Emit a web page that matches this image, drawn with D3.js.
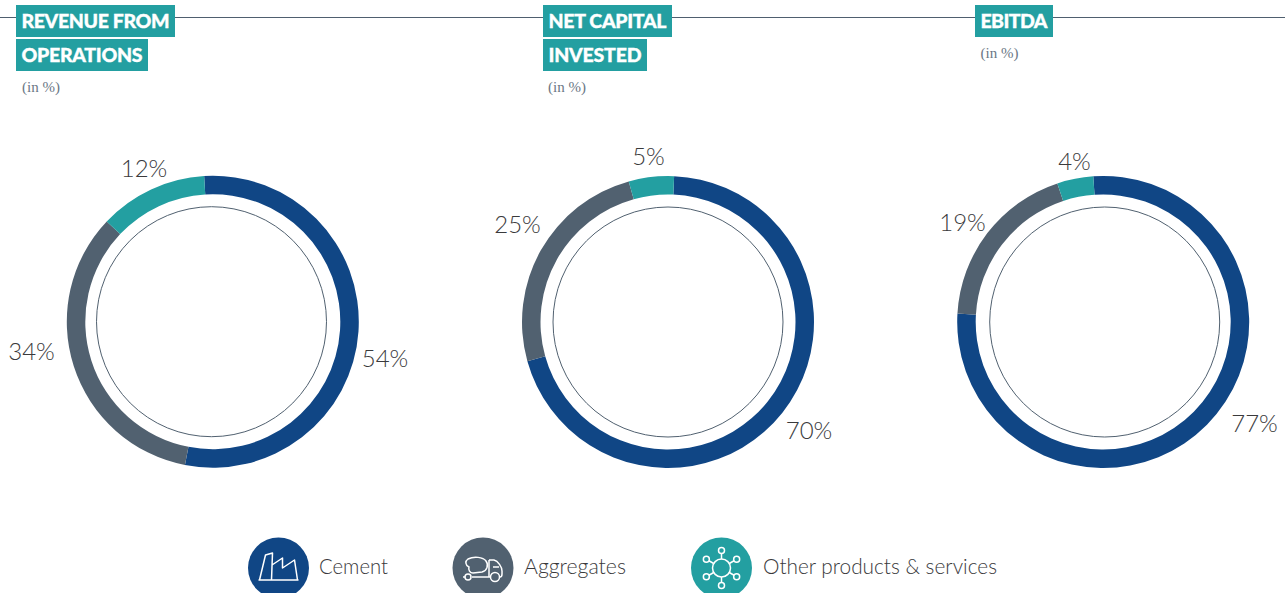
<!DOCTYPE html>
<html><head><meta charset="utf-8">
<script src="https://cdn.jsdelivr.net/npm/d3@7"></script>
<style>html,body{margin:0;padding:0;background:#fff;overflow:hidden}svg{display:block}</style>
</head><body><div id="c"></div>
<script>
const categories = ["Cement","Aggregates","Other products & services"];
const revenueValues = [54,34,12];
const capitalValues = [70,25,5];
const ebitdaValues = [77,19,4];
const colors = ["#104685","#516170","#239fa1"];
const W=1285,H=593;
const svg=d3.select("#c").append("svg").attr("width",W).attr("height",H);
const sans="Lato, sans-serif";
const textColor="#3a3a3c";
svg.append("line").attr("x1",0).attr("x2",W).attr("y1",17.5).attr("y2",17.5).attr("stroke","#4f5f6f").attr("stroke-width",1);

const panels=[
 {values:revenueValues,cx:212.8,cy:321.7,start:-3.4,ringDx:-1.3,
  title:[{t:"REVENUE FROM",x:16,y:5,w:159},{t:"OPERATIONS",x:16,y:39,w:132}],sub:[22,91.5],
  labels:[[385,357],[31.5,350],[144,167]]},
 {values:capitalValues,cx:668,cy:322,start:2.4,ringDx:0,
  title:[{t:"NET CAPITAL",x:543,y:5,w:129},{t:"INVESTED",x:543,y:39,w:104}],sub:[548,91.5],
  labels:[[809,429],[517.5,223],[648.5,155]]},
 {values:ebitdaValues,cx:1103.2,cy:322,start:-3.9,ringDx:1.5,
  title:[{t:"EBITDA",x:975,y:5,w:78}],sub:[980.5,57.5],
  labels:[[1254.5,422],[962.5,221],[1074.5,160]]}
];
const arc=d3.arc().innerRadius(127.5).outerRadius(146);
panels.forEach(p=>{
  const a0=p.start*Math.PI/180;
  const pie=d3.pie().sort(null).startAngle(a0).endAngle(a0+2*Math.PI);
  const g=svg.append("g").attr("transform",`translate(${p.cx},${p.cy})`);
  g.selectAll("path").data(pie(p.values)).join("path").attr("d",arc).attr("fill",(d,i)=>colors[i]);
  g.append("circle").attr("cx",p.ringDx).attr("r",115).attr("fill","none").attr("stroke",colors[1]).attr("stroke-width",1);
  p.title.forEach(b=>{
    svg.append("rect").attr("x",b.x).attr("y",b.y).attr("width",b.w).attr("height",32).attr("fill",colors[2]);
    svg.append("text").attr("x",b.x+5.5).attr("y",b.y+23).attr("fill","#fff").attr("stroke","#fff").attr("stroke-width",0.35)
      .attr("font-family",sans).attr("font-weight",900)
      .attr("font-size",19.5).attr("textLength",b.w-11).attr("lengthAdjust","spacing").text(b.t);
  });
  svg.append("text").attr("x",p.sub[0]).attr("y",p.sub[1]).attr("font-family","'Liberation Serif',serif").attr("font-size",15).attr("fill","#6b7785").text("(in %)");
  svg.selectAll(null).data(p.values).join("text").attr("x",(d,i)=>p.labels[i][0]).attr("y",(d,i)=>p.labels[i][1])
    .attr("text-anchor","middle").attr("dominant-baseline","central").attr("font-family",sans).attr("font-weight",300)
    .attr("font-size",24).attr("fill",textColor).text(d=>d+"%");
});

// legend
const legendX=[278.5,483,721.5], legendTextX=[319,524,763], legendTextW=[69,102,234];
const leg=svg.selectAll("g.leg").data(categories).join("g").attr("class","leg");
leg.append("circle").attr("cx",(d,i)=>legendX[i]).attr("cy",568).attr("r",30.5).attr("fill",(d,i)=>colors[i]);
leg.append("text").attr("x",(d,i)=>legendTextX[i]).attr("y",574).attr("font-family",sans).attr("font-weight",300)
  .attr("font-size",22).attr("fill",textColor).attr("textLength",(d,i)=>legendTextW[i]).attr("lengthAdjust","spacingAndGlyphs").text(d=>d);
const ic=(i)=>svg.append("g").attr("transform",`translate(${legendX[i]},568)`).attr("fill","none").attr("stroke","#fff").attr("stroke-width",1.5).attr("stroke-linejoin","round");
// factory
ic(0).append("path").attr("d","M-20 12H20M-19 12L-13 -13L-6 -15L-7 12M-6.5 -3L4 -10V0L16 -8L19 12");
// truck
const t=ic(1);
t.append("path").attr("d","M-15 -9C-9 -12 0 -11 3 -7C6 -3 4 3 -1 4L-10 5C-13 5 -15 2 -14 -1C-18 -3 -18 -7 -15 -9Z");
t.append("path").attr("d","M6 -8H11C15 -7 19 -1 19 3V6C19 8 18 9 17 9M7 9H-11M-18 9H-20M6 -8V9M10 -1H16");
t.append("circle").attr("cx",12).attr("cy",9).attr("r",4.5);
t.append("circle").attr("cx",-15).attr("cy",9).attr("r",3);
// network
const n=ic(2);
n.append("circle").attr("r",9);
d3.range(6).forEach(k=>{
  const a=k*Math.PI/3;
  const s=Math.sin(a),c=Math.cos(a);
  n.append("line").attr("x1",9*s).attr("y1",-9*c).attr("x2",14.5*s).attr("y2",-14.5*c);
  n.append("circle").attr("cx",17.5*s).attr("cy",-17.5*c).attr("r",3);
});
</script></body></html>
